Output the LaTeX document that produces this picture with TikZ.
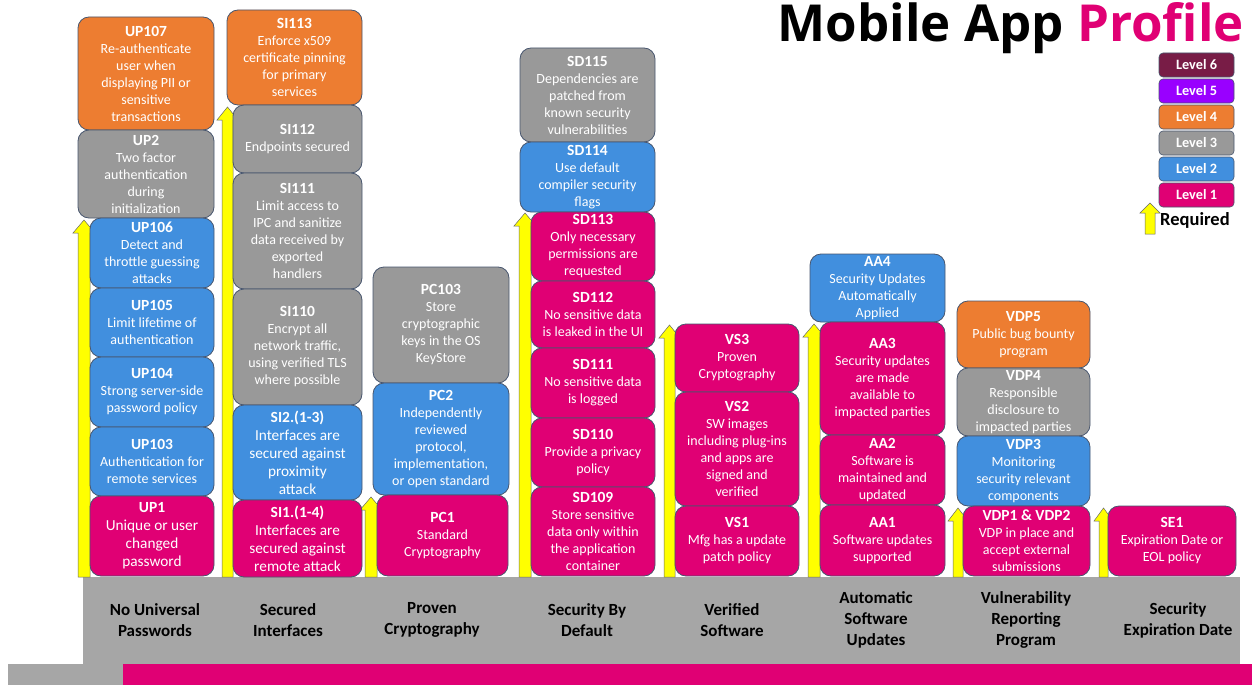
\documentclass[tikz,border=0pt]{standalone}
\usepackage{fontspec}
\setmainfont{Carlito}
\newfontfamily\titlefont{Open Sans}
\definecolor{pinkc}{RGB}{224,0,116}
\definecolor{bluec}{RGB}{65,143,222}
\definecolor{grayc}{RGB}{153,153,153}
\definecolor{orangec}{RGB}{237,125,49}
\definecolor{lvsix}{RGB}{120,28,70}
\definecolor{lvfive}{RGB}{153,0,255}
\definecolor{barc}{RGB}{166,166,166}
\definecolor{edgec}{RGB}{72,86,110}
\definecolor{yel}{RGB}{255,255,0}
\tikzset{
  blk/.style={draw=edgec, line width=0.8pt, rounded corners=11pt, inner sep=0pt, align=center,
    text=white, font=\fontsize{14}{17}\selectfont},
  big/.style={font=\fontsize{15.3}{18}\selectfont},
  lv1/.style={fill=pinkc}, lv2/.style={fill=bluec}, lv3/.style={fill=grayc}, lv4/.style={fill=orangec},
  reqarrow/.style={fill=yel, draw=gray!80!black, line width=0.5pt},
  lab/.style={align=center, font=\fontsize{17}{21}\selectfont\bfseries, text=black},
  leg/.style={draw=edgec, line width=0.6pt, rounded corners=4pt, minimum width=75pt, minimum height=24pt,
    inner sep=0pt, text=white, font=\fontsize{14.3}{15}\selectfont\bfseries}
}
\newcommand\bx[8]{\node[blk,#6, minimum width={#4-#2}, minimum height={#5-#3}] (#1) at ({(#2+#4)/2},{(#3+#5)/2}) {{\bfseries\fontsize{15.5}{17}\selectfont #7}\\#8};}
\newcommand\reqarr[4]{\filldraw[reqarrow] (#1,#4) -- (#1,{#3+13}) -- ({#1-5},{#3+13}) -- ({(#1+#2)/2},#3) -- ({#2+5},{#3+13}) -- (#2,{#3+13}) -- (#2,#4) -- cycle;}
\begin{document}
\begin{tikzpicture}[x=1pt,y=-1pt]
\useasboundingbox (0,0) rectangle (1252,685);
% bottom bars
\fill[barc] (83,577) rectangle (1240,664);
\fill[barc] (8,664) rectangle (123,685);
\fill[pinkc] (123,664) rectangle (1252,685);
% arrows
\reqarr{78}{90}{220}{577}
\reqarr{222}{233}{107}{577}
\reqarr{365}{377}{497}{577}
\reqarr{519}{531}{213}{577}
\reqarr{664}{675}{325}{577}
\reqarr{808}{820}{324}{577}
\reqarr{953}{963}{508}{577}
\reqarr{1099}{1108}{508}{577}
% UP column
\bx{up107}{78}{17}{214}{130}{lv4}{UP107}{Re-authenticate\\user when\\displaying PII or\\sensitive\\transactions}
\bx{up2}{78}{130}{214}{218}{lv3}{UP2}{Two factor\\authentication\\during\\initialization}
\bx{up106}{90}{218}{214}{288}{lv2}{UP106}{Detect and\\throttle guessing\\attacks}
\bx{up105}{90}{288}{214}{357}{lv2}{UP105}{Limit lifetime of\\authentication}
\bx{up104}{90}{357}{214}{427}{lv2}{UP104}{Strong server-side\\password policy}
\bx{up103}{90}{427}{214}{496}{lv2}{UP103}{Authentication for\\remote services}
\bx{up1}{90}{496}{214}{576}{lv1,big}{UP1}{Unique or user\\changed\\password}
% SI column
\bx{si113}{227}{10}{362}{105}{lv4}{SI113}{Enforce x509\\certificate pinning\\for primary\\services}
\bx{si112}{233}{105}{362}{173}{lv3}{SI112}{Endpoints secured}
\bx{si111}{233}{173}{362}{289}{lv3}{SI111}{Limit access to\\IPC and sanitize\\data received by\\exported\\handlers}
\bx{si110}{233}{289}{362}{405}{lv3}{SI110}{Encrypt all\\network traffic,\\using verified TLS\\where possible}
\bx{si2}{233}{405}{362}{500}{lv2,big}{SI2.(1-3)}{Interfaces are\\secured against\\proximity\\attack}
\bx{si1}{233}{500}{362}{577}{lv1,big}{SI1.(1-4)}{Interfaces are\\secured against\\remote attack}
% PC column
\bx{pc103}{373}{267}{509}{383}{lv3}{PC103}{Store\\cryptographic\\keys in the OS\\KeyStore}
\bx{pc2}{373}{383}{509}{495}{lv2}{PC2}{Independently\\reviewed\\protocol,\\implementation,\\or open standard}
\bx{pc1}{377}{495}{508}{576}{lv1}{PC1}{Standard\\Cryptography}
% SD column
\bx{sd115}{520}{48}{655}{142}{lv3}{SD115}{Dependencies are\\patched from\\known security\\vulnerabilities}
\bx{sd114}{520}{142}{655}{212}{lv2}{SD114}{Use default\\compiler security\\flags}
\bx{sd113}{531}{212}{655}{281}{lv1}{SD113}{Only necessary\\permissions are\\requested}
\bx{sd112}{531}{281}{655}{348}{lv1}{SD112}{No sensitive data\\is leaked in the UI}
\bx{sd111}{531}{348}{655}{418}{lv1}{SD111}{No sensitive data\\is logged}
\bx{sd110}{531}{418}{655}{487}{lv1}{SD110}{Provide a privacy\\policy}
\bx{sd109}{531}{487}{655}{576}{lv1}{SD109}{Store sensitive\\data only within\\the application\\container}
% VS column
\bx{vs3}{675}{324}{799}{392}{lv1}{VS3}{Proven\\Cryptography}
\bx{vs2}{675}{392}{799}{506}{lv1}{VS2}{SW images\\including plug-ins\\and apps are\\signed and\\verified}
\bx{vs1}{675}{506}{799}{576}{lv1}{VS1}{Mfg has a update\\patch policy}
% AA column
\bx{aa4}{810}{254}{945}{322}{lv2}{AA4}{Security Updates\\Automatically\\Applied}
\bx{aa3}{820}{322}{945}{435}{lv1}{AA3}{Security updates\\are made\\available to\\impacted parties}
\bx{aa2}{820}{435}{945}{505}{lv1}{AA2}{Software is\\maintained and\\updated}
\bx{aa1}{820}{505}{945}{576}{lv1}{AA1}{Software updates\\supported}
% VDP column
\bx{vdp5}{957}{301}{1090}{368}{lv4}{VDP5}{Public bug bounty\\program}
\bx{vdp4}{957}{368}{1090}{436}{lv3}{VDP4}{Responsible\\disclosure to\\impacted parties}
\bx{vdp3}{957}{436}{1090}{506}{lv2}{VDP3}{Monitoring\\security relevant\\components}
\bx{vdp1}{963}{506}{1090}{576}{lv1}{VDP1 \& VDP2}{VDP in place and\\accept external\\submissions}
% SE column
\bx{se1}{1108}{506}{1236}{576}{lv1}{SE1}{Expiration Date or\\EOL policy}
% bottom labels
\node[lab] (l1) at (155,620) {No Universal\\Passwords};
\node[lab] (l2) at (288,620) {Secured\\Interfaces};
\node[lab] (l3) at (432,620) {Proven\\Cryptography};
\node[lab] (l4) at (587,620) {Security By\\Default};
\node[lab] (l5) at (732,620) {Verified\\Software};
\node[lab] (l6) at (876,620) {Automatic\\Software\\Updates};
\node[lab] (l7) at (1026,620) {Vulnerability\\Reporting\\Program};
\node[lab] (l8) at (1178,620) {Security\\Expiration Date};
% title
\node[anchor=base east, inner sep=0pt, font=\titlefont\fontsize{51}{55}\selectfont\bfseries] (title) at (1244,42) {Mobile App \textcolor{pinkc}{Profile}};
% legend
\node[leg, fill=lvsix] (g6) at (1196.5,65) {Level 6};
\node[leg, fill=lvfive] (g5) at (1196.5,91) {Level 5};
\node[leg, fill=orangec] (g4) at (1196.5,117) {Level 4};
\node[leg, fill=grayc] (g3) at (1196.5,143) {Level 3};
\node[leg, fill=bluec] (g2) at (1196.5,169) {Level 2};
\node[leg, fill=pinkc] (g1) at (1196.5,195) {Level 1};
\filldraw[reqarrow] (1145,234) -- (1145,213) -- (1140,213) -- (1150,203) -- (1160,213) -- (1155,213) -- (1155,234) -- cycle;
\node[anchor=west, inner sep=0pt, font=\fontsize{18.5}{20}\selectfont\bfseries] (req) at (1160,220) {Required};
\end{tikzpicture}
\end{document}
